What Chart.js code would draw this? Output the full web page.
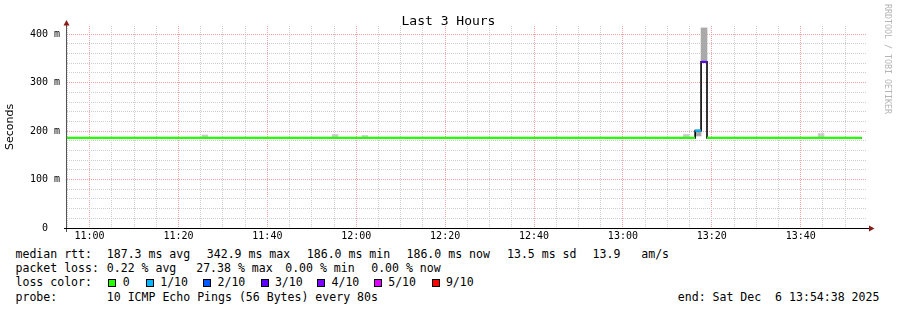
<!DOCTYPE html>
<html>
<head>
<meta charset="utf-8">
<script src="https://cdn.jsdelivr.net/npm/chart.js@4"></script>
<style>
  html, body { margin: 0; padding: 0; background: #fff; }
  #wrap { position: relative; width: 897px; height: 310px; background: #fff; overflow: hidden; }
  #c { position: absolute; left: 0; top: 0; }
  .mono { position: absolute; font-family: "DejaVu Sans Mono", monospace; white-space: pre; color: #000; }
  #title { left: 0; width: 897px; top: 13px; text-align: center; font-size: 13px; line-height: 15px; }
  #wm { left: 883px; top: 4px; font-size: 8.3px; line-height: 9px; width: 9px; writing-mode: vertical-rl; color: #b4b4b4; }
  .leg { font-size: 11.55px; line-height: 14px; }
  .box { position: absolute; width: 6px; height: 6px; border: 1px solid #000; }
</style>
</head>
<body>
<div id="wrap">
  <canvas id="c" width="897" height="245"></canvas>
  <div id="title" class="mono">Last 3 Hours</div>
  <div id="wm" class="mono">RRDTOOL / TOBI OETIKER</div>
</div>
<script>
// ---------------- data ----------------
const axisStart = '10:54:55';
const axisEnd   = '13:54:55';

// median rtt segments (step start / end), value in ms, loss level (x/10)
const segStart  = ['10:54:55', '13:16:15', '13:17:35', '13:18:55'];
const segEnd    = ['13:16:15', '13:17:35', '13:18:55', '13:53:45'];
const segMedian = [186, 201, 342.9, 186];
const segLoss   = [0, 1, 3, 0];

// smoke (ping spread) per 80 s step: centre time, low, high (ms)
const smokeTimes = ['11:25:55', '11:55:15', '12:01:55', '13:14:15', '13:16:55', '13:18:15', '13:44:35'];
const smokeLow   = [185, 185, 185, 185, 190, 344, 185];
const smokeHigh  = [192, 193, 191, 193, 200, 413, 195];

// loss colour legend
const lossLevels = [0, 1, 2, 3, 4, 5, 9];
const lossLabels = ['0', '1/10', '2/10', '3/10', '4/10', '5/10', '9/10'];
const lossColors = ['#26ff00', '#00b8ff', '#0059ff', '#5e00ff', '#7e00ff', '#dd00ff', '#ff0000'];

// axis ticks
const xTickStep = 5;      // minutes
const xLabelStep = 20;    // minutes
const yTickStep = 20;     // ms
const yLabelStep = 100;   // ms
const yMax = 417;

// legend text
const rttStats  = ['187.3 ms avg', '342.9 ms max', '186.0 ms min', '186.0 ms now', '13.5 ms sd', '13.9   am/s'];
const lossStats = ['0.22 % avg', '27.38 % max', '0.00 % min', '0.00 % now'];
const probeText = '10 ICMP Echo Pings (56 Bytes) every 80s';
const endText   = 'end: Sat Dec  6 13:54:38 2025';

// ---------------- helpers ----------------
function t2m(s) { const p = s.split(':').map(Number); return p[0] * 60 + p[1] + (p[2] || 0) / 60; }
function lossColor(l) { return lossColors[lossLevels.indexOf(l)]; }
function fmtTime(m) { const h = Math.floor(m / 60), mm = Math.round(m % 60); return (h < 10 ? '0' : '') + h + ':' + (mm < 10 ? '0' : '') + mm; }

const xMin = t2m(axisStart), xMax = t2m(axisEnd);

const datasets = [];
// smoke
datasets.push({
  type: 'bar',
  data: smokeTimes.map((t, i) => ({ x: t2m(t), y: [smokeLow[i], smokeHigh[i]] })),
  backgroundColor: ctx => (ctx.raw && ctx.raw.y[1] >= 200) ? '#a9a9a9' : '#cacaca',
  borderWidth: 0,
  barPercentage: 1,
  categoryPercentage: 1,
  grouped: false,
  order: 3
});
// black stepped median
const stepData = segStart.map((t, i) => ({ x: t2m(t), y: segMedian[i] }));
stepData.push({ x: t2m(segEnd[segEnd.length - 1]), y: segMedian[segMedian.length - 1] });
datasets.push({
  type: 'line',
  data: stepData,
  stepped: 'before',
  borderColor: '#000',
  borderWidth: 1.6,
  pointRadius: 0,
  fill: false,
  order: 2
});
// loss-coloured median segments
segStart.forEach((t, i) => {
  datasets.push({
    type: 'line',
    data: [{ x: t2m(t), y: segMedian[i] }, { x: t2m(segEnd[i]), y: segMedian[i] }],
    borderColor: lossColor(segLoss[i]),
    borderWidth: 2.2,
    borderCapStyle: 'butt',
    pointRadius: 0,
    fill: false,
    order: 1
  });
});

const MONO = '"DejaVu Sans Mono", monospace';
const minorGrid = '#cdcdcd';
const majorGrid = '#f0a0a0';

const axesPlugin = {
  id: 'rrdAxes',
  afterDatasetsDraw(chart) {
    const { ctx, chartArea: a } = chart;
    ctx.save();
    // y axis
    ctx.strokeStyle = '#555';
    ctx.lineWidth = 1;
    ctx.beginPath();
    ctx.moveTo(a.left - 0.5, a.top - 1);
    ctx.lineTo(a.left - 0.5, a.bottom + 4);
    ctx.stroke();
    // x axis
    ctx.strokeStyle = '#000';
    ctx.beginPath();
    ctx.moveTo(a.left - 3, a.bottom + 0.5);
    ctx.lineTo(a.right + 3, a.bottom + 0.5);
    ctx.stroke();
    // arrows
    ctx.fillStyle = '#8b1a1a';
    ctx.beginPath();
    ctx.moveTo(a.left - 0.5, a.top - 6);
    ctx.lineTo(a.left - 3.5, a.top - 0.5);
    ctx.lineTo(a.left + 2.5, a.top - 0.5);
    ctx.closePath();
    ctx.fill();
    ctx.beginPath();
    ctx.moveTo(a.right + 7.5, a.bottom + 0.5);
    ctx.lineTo(a.right + 2, a.bottom - 2.5);
    ctx.lineTo(a.right + 2, a.bottom + 3.5);
    ctx.closePath();
    ctx.fill();
    ctx.restore();
  }
};

new Chart(document.getElementById('c'), {
  type: 'line',
  data: { datasets },
  plugins: [axesPlugin],
  options: {
    responsive: false,
    animation: false,
    events: [],
    layout: { padding: { left: 0, top: 26, right: 30, bottom: 0 } },
    plugins: { legend: { display: false }, tooltip: { enabled: false }, title: { display: false } },
    scales: {
      x: {
        type: 'linear',
        min: xMin,
        max: xMax,
        offset: false,
        afterFit: s => { s.height = 17; },
        afterBuildTicks: s => {
          const t = [];
          for (let v = Math.ceil(xMin / xTickStep) * xTickStep; v <= xMax; v += xTickStep) t.push({ value: v });
          s.ticks = t;
        },
        grid: {
          offset: false,
          drawTicks: false,
          lineWidth: 1,
          color: c => (c.tick && Math.round(c.tick.value) % xLabelStep === 0) ? majorGrid : minorGrid
        },
        border: { display: false, dash: [1, 1] },
        ticks: {
          autoSkip: false,
          maxRotation: 0,
          minRotation: 0,
          padding: 2,
          color: '#000',
          font: { family: MONO, size: 10 },
          callback: v => (Math.round(v) % xLabelStep === 0) ? fmtTime(v) : ''
        }
      },
      y: {
        type: 'linear',
        min: 0,
        max: yMax,
        afterFit: s => { s.width = 67; },
        afterBuildTicks: s => {
          const t = [];
          for (let v = 0; v <= yMax; v += yTickStep) t.push({ value: v });
          s.ticks = t;
        },
        grid: {
          drawTicks: false,
          lineWidth: 1,
          color: c => (c.tick && c.tick.value % yLabelStep === 0) ? majorGrid : minorGrid
        },
        border: { display: false, dash: [1, 1] },
        title: {
          display: true,
          text: 'Seconds',
          color: '#000',
          font: { family: '"DejaVu Sans", sans-serif', size: 11 },
          padding: { top: 4, bottom: 0 }
        },
        ticks: {
          autoSkip: false,
          crossAlign: 'center',
          padding: 7,
          color: '#000',
          font: { family: MONO, size: 10 },
          callback: v => (v % yLabelStep === 0) ? (v === 0 ? '0' : v + ' m') : ''
        }
      }
    }
  }
});

// ---------------- legend (text) ----------------
const wrap = document.getElementById('wrap');
function put(text, x, y, cls) {
  const d = document.createElement('div');
  d.className = 'mono leg' + (cls ? ' ' + cls : '');
  d.style.left = x + 'px';
  d.style.top = y + 'px';
  d.textContent = text;
  wrap.appendChild(d);
  return d;
}
const rowTop = [247, 261.2, 275.4, 289.6];
put('median rtt:', 15.5, rowTop[0]);
const rttX = [106.8, 206.8, 306.8, 406.5, 507, 592.6];
rttStats.forEach((s, i) => put(s, rttX[i], rowTop[0]));

put('packet loss:', 15.5, rowTop[1]);
const lossX = [106.8, 196.2, 285.2, 371.2];
lossStats.forEach((s, i) => put(s, lossX[i], rowTop[1]));

put('loss color:', 15.5, rowTop[2]);
const boxX = [108.3, 146, 203.3, 260.7, 317.3, 374, 431.7];
lossLabels.forEach((lab, i) => {
  const b = document.createElement('div');
  b.className = 'box';
  b.style.left = boxX[i] + 'px';
  b.style.top = '279px';
  b.style.background = lossColors[i];
  wrap.appendChild(b);
  put(lab, boxX[i] + (i === 0 ? 14.5 : 14.2), rowTop[2]);
});

put('probe:', 15.5, rowTop[3]);
put(probeText, 106.8, rowTop[3]);
put(endText, 677.8, rowTop[3]);
</script>
</body>
</html>
